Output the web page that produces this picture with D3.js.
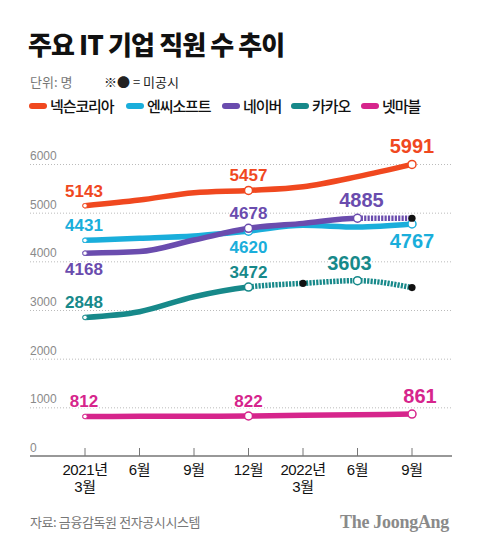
<!DOCTYPE html>
<html>
<head>
<meta charset="utf-8">
<script src="https://cdn.jsdelivr.net/npm/d3@7"></script>
<style>
  body { margin: 0; background: #fff; }
  svg { display: block; }
</style>
</head>
<body>
<svg id="chart" width="480" height="548" font-family="Noto Sans CJK KR, Liberation Sans, sans-serif"></svg>
<script>
// quarters, 2021-03 .. 2022-09
const periods = ["2021-03", "2021-06", "2021-09", "2021-12", "2022-03", "2022-06", "2022-09"];
const tickLabels = [["2021년", "3월"], ["6월"], ["9월"], ["12월"], ["2022년", "3월"], ["6월"], ["9월"]];
const yTicks = [0, 1000, 2000, 3000, 4000, 5000, 6000];

const nexon = [5143, 5260, 5410, 5457, 5533, 5740, 5991];
const ncsoft = [4431, 4472, 4520, 4620, 4740, 4705, 4767];
const naver = [4168, 4200, 4438, 4678, 4780, 4885, 4885];
const kakao = [2848, 2965, 3273, 3472, 3548, 3603, 3460];
const netmarble = [812, 815, 818, 822, 835, 848, 861];

// indexes that were not disclosed (drawn dashed with a black dot)
const naverMissing = [6];
const kakaoMissing = [4, 6];

const series = [
    { name: "넥슨코리아", color: "#f0481f", values: nexon, missing: [], labels: [[0, "up"], [3, "up"], [6, "up"]] },
    { name: "엔씨소프트", color: "#1aaedb", values: ncsoft, missing: [], labels: [[0, "up"], [3, "down"], [6, "down"]] },
    { name: "네이버", color: "#6a4cae", values: naver, missing: naverMissing, labels: [[0, "down"], [3, "up"], [5, "up"]] },
    { name: "카카오", color: "#17898a", values: kakao, missing: kakaoMissing, labels: [[0, "up"], [3, "up"], [5, "up"]] },
    { name: "넷마블", color: "#d6258c", values: netmarble, missing: [], labels: [[0, "up"], [3, "up"], [6, "up"]] }
];

const svg = d3.select("#chart");

const left = 30, right = 452;
const x = d3.scalePoint().domain(periods).range([85, 412]);
const y = d3.scaleLinear().domain([0, 6000]).range([456, 164]);

// title block
svg.append("text")
    .attr("x", 28).attr("y", 55)
    .attr("font-size", 26).attr("font-weight", 900)
    .attr("letter-spacing", -0.9)
    .attr("fill", "#111")
    .text("주요 IT 기업 직원 수 추이");

svg.append("text")
    .attr("x", 30).attr("y", 87)
    .attr("font-size", 13).attr("fill", "#777")
    .text("단위: 명");

svg.append("text")
    .attr("x", 104).attr("y", 87)
    .attr("font-size", 13).attr("fill", "#222")
    .text("※● = 미공시");

// legend
const legendX = [29, 126, 222, 291, 361];
const legend = svg.append("g").selectAll("g")
    .data(series)
    .enter()
    .append("g")
    .attr("transform", (d, i) => `translate(${legendX[i]},106)`);

legend.append("rect")
    .attr("x", 0).attr("y", -3)
    .attr("width", 18).attr("height", 6).attr("rx", 3)
    .attr("fill", (d) => d.color);

legend.append("text")
    .attr("x", 21).attr("y", 6)
    .attr("font-size", 15).attr("font-weight", 500).attr("letter-spacing", -1.1)
    .attr("fill", "#111")
    .text((d) => d.name);

// grid
const grid = svg.append("g");
grid.selectAll("line")
    .data(yTicks.filter((t) => t > 0))
    .enter()
    .append("line")
    .attr("x1", left).attr("x2", right)
    .attr("y1", (d) => y(d) + 0.5).attr("y2", (d) => y(d) + 0.5)
    .attr("stroke", "#bbb")
    .attr("stroke-dasharray", "1,2");

grid.selectAll("text")
    .data(yTicks)
    .enter()
    .append("text")
    .attr("x", left)
    .attr("y", (d) => y(d) - 4)
    .attr("font-family", "Liberation Sans, sans-serif")
    .attr("font-size", 12)
    .attr("fill", "#8a8a8a")
    .text((d) => d);

// x axis
const axis = svg.append("g").attr("transform", `translate(0,${y(0)})`);
axis.append("line")
    .attr("x1", left).attr("x2", right)
    .attr("stroke", "#333").attr("stroke-width", 1.2);

axis.selectAll(".tick")
    .data(periods)
    .enter()
    .append("line")
    .attr("class", "tick")
    .attr("x1", (d) => x(d)).attr("x2", (d) => x(d))
    .attr("y1", -8).attr("y2", 0)
    .attr("stroke", "#777");

// one text per line so the two-line labels stay separate
const tickRows = [];
periods.forEach((p, i) => {
    tickLabels[i].forEach((t, j) => tickRows.push({ p: p, t: t, row: j }));
});

axis.selectAll(".lbl")
    .data(tickRows)
    .enter()
    .append("text")
    .attr("class", "lbl")
    .attr("x", (d) => x(d.p))
    .attr("y", (d) => 19 + d.row * 17)
    .attr("text-anchor", "middle")
    .attr("font-family", "Liberation Sans, Noto Sans CJK KR, sans-serif")
    .attr("font-size", 15)
    .attr("letter-spacing", -0.4)
    .attr("fill", "#111")
    .text((d) => d.t);

// lines
const line = d3.line()
    .x((d, i) => x(periods[i]))
    .y((d) => y(d))
    .curve(d3.curveMonotoneX);

const defs = svg.append("defs");
const plot = svg.append("g");

series.forEach((s, k) => {
    // first missing point starts the dashed part
    const firstMissing = s.missing.length ? d3.min(s.missing) : null;
    const splitX = firstMissing === null ? right : x(periods[firstMissing - 1]);

    defs.append("clipPath").attr("id", "solid" + k)
        .append("rect").attr("x", 0).attr("y", 0).attr("width", splitX).attr("height", 548);
    defs.append("clipPath").attr("id", "dash" + k)
        .append("rect").attr("x", splitX).attr("y", 0).attr("width", 480 - splitX).attr("height", 548);

    plot.append("path")
        .datum(s.values)
        .attr("d", line)
        .attr("fill", "none")
        .attr("stroke", s.color)
        .attr("stroke-width", 5.5)
        .attr("stroke-linecap", "round")
        .attr("clip-path", `url(#solid${k})`);

    if (firstMissing !== null) {
        plot.append("path")
            .datum(s.values)
            .attr("d", line)
            .attr("fill", "none")
            .attr("stroke", s.color)
            .attr("stroke-width", 5.5)
            .attr("stroke-dasharray", "2.2,1.2")
            .attr("clip-path", `url(#dash${k})`);
    }
});

// markers and value labels
series.forEach((s) => {
    const g = plot.append("g");
    s.labels.forEach(([i, pos]) => {
        g.append("circle")
            .attr("cx", x(periods[i]))
            .attr("cy", y(s.values[i]))
            .attr("r", i === 0 ? 2.2 : 4)
            .attr("fill", "#fff")
            .attr("stroke", s.color)
            .attr("stroke-width", i === 0 ? 0.8 : 1.5);
    });
    s.missing.forEach((i) => {
        g.append("circle")
            .attr("cx", x(periods[i]))
            .attr("cy", y(s.values[i]))
            .attr("r", 3.6)
            .attr("fill", "#111");
    });

    const lastLabel = s.labels[s.labels.length - 1][0];
    s.labels.forEach(([i, pos]) => {
        const big = i === lastLabel;
        let lx = x(periods[i]);
        if (i === 0) lx -= 1;
        if (big && s.name === "넷마블") lx += 8;
        if (big && s.name === "카카오") lx -= 8;
        if (big && s.name === "네이버") lx += 4;
        g.append("text")
            .attr("x", lx)
            .attr("y", y(s.values[i]) + (pos === "up" ? (big ? -11 : -9) : (big ? 24 : 22)))
            .attr("text-anchor", "middle")
            .attr("font-family", "Liberation Sans, Arial, sans-serif")
            .attr("font-weight", "bold")
            .attr("font-size", big ? 20 : 17)
            .attr("fill", s.color)
            .attr("stroke", "#fff")
            .attr("stroke-width", 2)
            .attr("paint-order", "stroke")
            .text(s.values[i]);
    });
});

// footer
svg.append("text")
    .attr("x", 30).attr("y", 527)
    .attr("font-size", 13).attr("letter-spacing", -0.4)
    .attr("fill", "#777")
    .text("자료: 금융감독원 전자공시시스템");

svg.append("text")
    .attr("x", 449).attr("y", 528)
    .attr("text-anchor", "end")
    .attr("font-family", "Liberation Serif, serif")
    .attr("font-weight", "bold")
    .attr("font-size", 18)
    .attr("letter-spacing", -0.3)
    .attr("fill", "#8a8a8a")
    .text("The JoongAng");
</script>
</body>
</html>
